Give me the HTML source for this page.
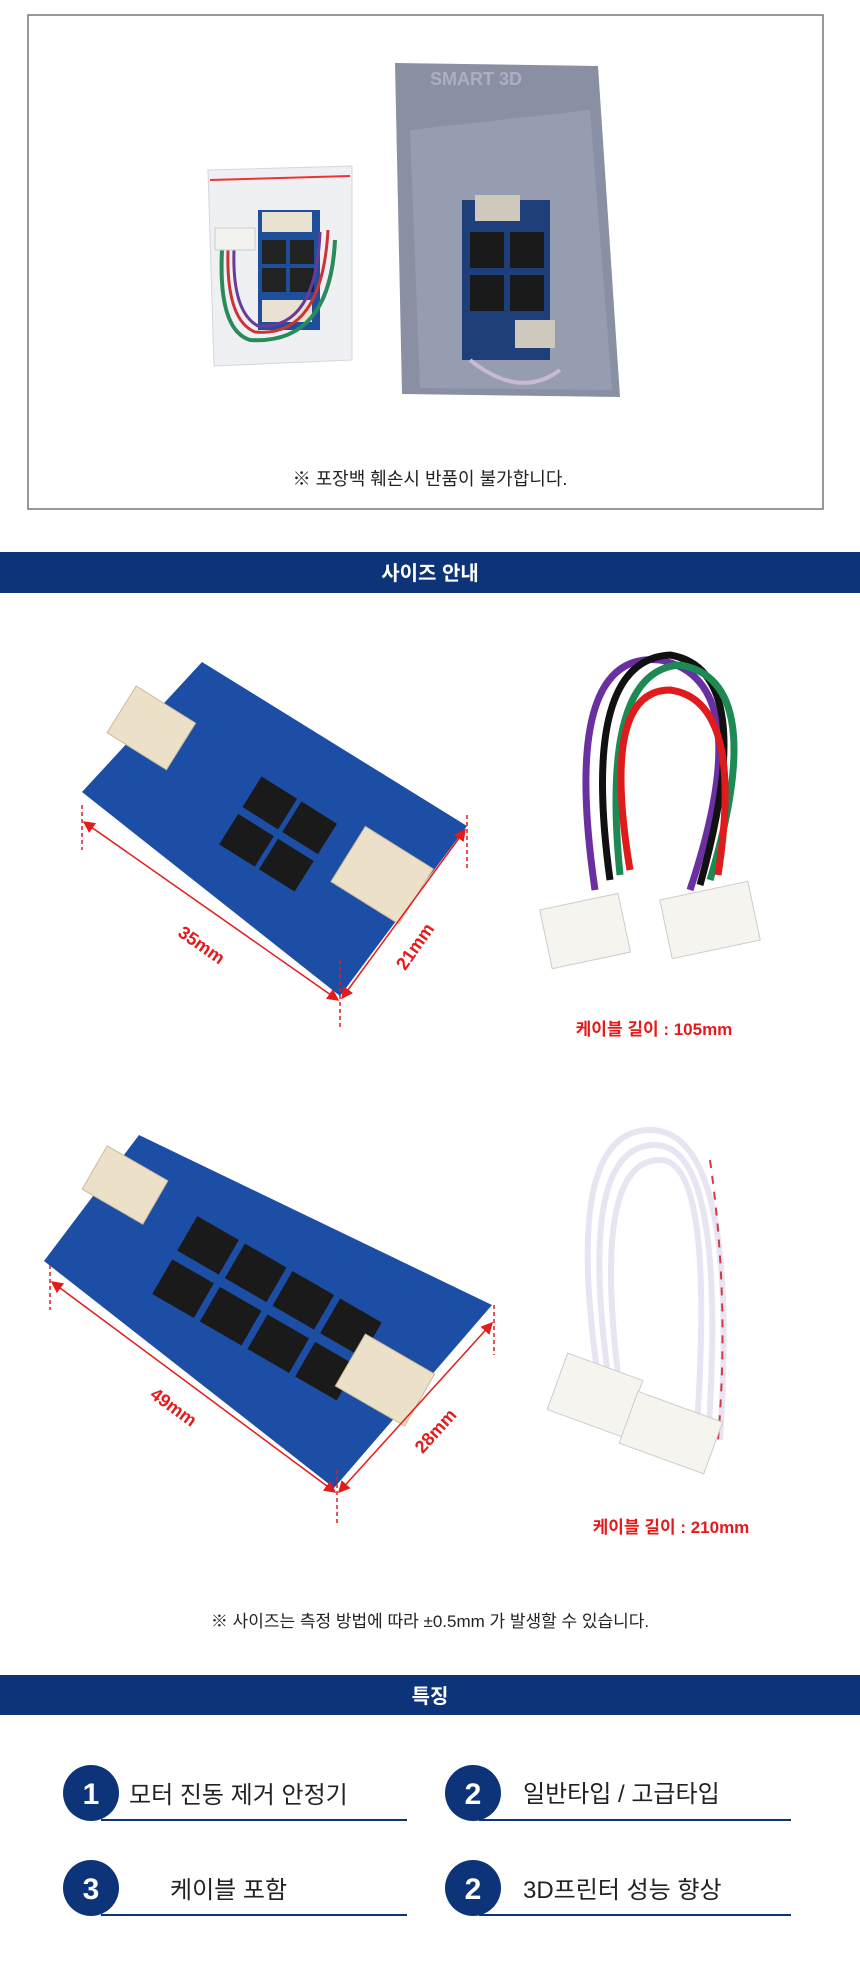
<!DOCTYPE html>
<html><head><meta charset="utf-8"><style>
html,body{margin:0;padding:0;background:#fff}
svg{display:block}
text{font-family:"Liberation Sans","Noto Sans CJK KR",sans-serif}
</style></head><body>
<svg width="860" height="1977" viewBox="0 0 860 1977" xmlns="http://www.w3.org/2000/svg">
<defs>
<marker id="ar" markerWidth="8" markerHeight="8" refX="7" refY="4" orient="auto-start-reverse"><path d="M0,0 L8,4 L0,8 z" fill="#e41b1b"/></marker>
</defs>
<!-- top box -->
<rect x="28" y="15" width="795" height="494" fill="#fff" stroke="#777" stroke-width="1.5"/>
<!-- small bag -->
<polygon points="208,170 352,166 352,360 214,366" fill="#eef0f4" stroke="#d4d6dc"/>
<line x1="210" y1="180" x2="350" y2="176" stroke="#e33" stroke-width="2"/>
<rect x="258" y="210" width="62" height="120" fill="#1f4f9a"/>
<rect x="262" y="212" width="50" height="20" fill="#e9e2d2"/>
<rect x="262" y="300" width="50" height="22" fill="#e9e2d2"/>
<rect x="262" y="240" width="24" height="24" fill="#222"/><rect x="290" y="240" width="24" height="24" fill="#222"/>
<rect x="262" y="268" width="24" height="24" fill="#222"/><rect x="290" y="268" width="24" height="24" fill="#222"/>
<path d="M222,250 Q218,330 250,340 Q330,345 335,240" fill="none" stroke="#2a8a5a" stroke-width="4"/>
<path d="M228,250 Q226,320 255,332 Q322,338 328,230" fill="none" stroke="#c33" stroke-width="3"/>
<path d="M234,250 Q232,312 258,326 Q316,330 320,232" fill="none" stroke="#6a3a9a" stroke-width="3"/>
<rect x="215" y="228" width="40" height="22" fill="#f4f2ee" stroke="#ccc"/>
<!-- big bag -->
<polygon points="395,63 598,66 620,397 402,394" fill="#8a90a4"/>
<polygon points="410,130 590,110 612,390 420,388" fill="#9aa0b4" opacity=".8"/>
<text x="430" y="85" font-size="18" fill="#aab0c0" font-weight="bold">SMART 3D</text>
<rect x="462" y="200" width="88" height="160" fill="#1e3f7a"/>
<rect x="475" y="195" width="45" height="26" fill="#cfc8bc"/>
<rect x="515" y="320" width="40" height="28" fill="#cfc8bc"/>
<rect x="470" y="232" width="34" height="36" fill="#1a1a1a"/><rect x="510" y="232" width="34" height="36" fill="#1a1a1a"/>
<rect x="470" y="275" width="34" height="36" fill="#1a1a1a"/><rect x="510" y="275" width="34" height="36" fill="#1a1a1a"/>
<path d="M470,360 Q520,400 560,370" fill="none" stroke="#c9b9d8" stroke-width="4"/>
<text x="430" y="485" font-size="18" fill="#222" text-anchor="middle">※ 포장백 훼손시 반품이 불가합니다.</text>
<!-- bar 1 -->
<rect x="0" y="552" width="860" height="41" fill="#0d3478"/>
<text x="430" y="580" font-size="20" fill="#fff" font-weight="bold" text-anchor="middle">사이즈 안내</text>
<!-- board 1 -->
<polygon points="82,792 202,662 467,826 340,996" fill="#1d4ea6"/>
<g transform="translate(270,829) rotate(32)">
<rect x="-35" y="-40" width="42" height="36" fill="#1a1a1a"/><rect x="12" y="-40" width="42" height="36" fill="#1a1a1a"/>
<rect x="-35" y="4" width="42" height="36" fill="#1a1a1a"/><rect x="12" y="4" width="42" height="36" fill="#1a1a1a"/>
</g>
<g transform="translate(150,730) rotate(32)"><rect x="-35" y="-30" width="70" height="55" fill="#ece0c8" stroke="#cbbb9a"/></g>
<g transform="translate(385,880) rotate(32)"><rect x="-45" y="-35" width="80" height="65" fill="#ece0c8" stroke="#cbbb9a"/></g>
<g stroke="#e41b1b" stroke-width="1.5" fill="none">
<line x1="82" y1="805" x2="82" y2="850" stroke-dasharray="4,3"/>
<line x1="340" y1="960" x2="340" y2="1030" stroke-dasharray="4,3"/>
<line x1="467" y1="815" x2="467" y2="870" stroke-dasharray="4,3"/>
<line x1="84" y1="822" x2="338" y2="1000" marker-start="url(#ar)" marker-end="url(#ar)"/>
<line x1="342" y1="998" x2="465" y2="830" marker-start="url(#ar)" marker-end="url(#ar)"/>
</g>
<text transform="translate(198,950) rotate(35)" font-size="18" font-weight="bold" fill="#e41b1b" text-anchor="middle">35mm</text>
<text transform="translate(420,950) rotate(-55)" font-size="18" font-weight="bold" fill="#e41b1b" text-anchor="middle">21mm</text>
<!-- cable 1 -->
<path d="M595,890 Q560,650 660,660 Q760,680 690,890" fill="none" stroke="#6a2fa0" stroke-width="7"/>
<path d="M610,880 Q580,660 670,655 Q760,670 700,885" fill="none" stroke="#111" stroke-width="7"/>
<path d="M620,875 Q600,670 680,665 Q770,680 710,880" fill="none" stroke="#1d8a54" stroke-width="7"/>
<path d="M630,870 Q600,690 670,690 Q745,700 718,875" fill="none" stroke="#e01b1b" stroke-width="7"/>
<g transform="translate(590,930) rotate(-12)"><rect x="-45" y="-30" width="80" height="60" fill="#f6f4ef" stroke="#ccc"/></g>
<g transform="translate(710,920) rotate(-12)"><rect x="-45" y="-30" width="90" height="60" fill="#f6f4ef" stroke="#ccc"/></g>
<text x="654" y="1035" font-size="17" font-weight="bold" fill="#e41b1b" text-anchor="middle">케이블 길이 : 105mm</text>
<!-- board 2 -->
<polygon points="44,1261 139,1135 492,1305 334,1488" fill="#1d4ea6"/>
<g transform="translate(270,1310) rotate(30)">
<rect x="-110" y="-45" width="48" height="40" fill="#1a1a1a"/><rect x="-55" y="-45" width="48" height="40" fill="#1a1a1a"/><rect x="0" y="-45" width="48" height="40" fill="#1a1a1a"/><rect x="55" y="-45" width="48" height="40" fill="#1a1a1a"/>
<rect x="-110" y="5" width="48" height="40" fill="#1a1a1a"/><rect x="-55" y="5" width="48" height="40" fill="#1a1a1a"/><rect x="0" y="5" width="48" height="40" fill="#1a1a1a"/><rect x="55" y="5" width="48" height="40" fill="#1a1a1a"/>
</g>
<g transform="translate(125,1185) rotate(30)"><rect x="-35" y="-25" width="70" height="50" fill="#ece0c8" stroke="#cbbb9a"/></g>
<g transform="translate(385,1380) rotate(30)"><rect x="-40" y="-30" width="80" height="60" fill="#ece0c8" stroke="#cbbb9a"/></g>
<g stroke="#e41b1b" stroke-width="1.5" fill="none">
<line x1="50" y1="1265" x2="50" y2="1310" stroke-dasharray="4,3"/>
<line x1="337" y1="1470" x2="337" y2="1525" stroke-dasharray="4,3"/>
<line x1="494" y1="1305" x2="494" y2="1355" stroke-dasharray="4,3"/>
<line x1="52" y1="1282" x2="335" y2="1492" marker-start="url(#ar)" marker-end="url(#ar)"/>
<line x1="339" y1="1492" x2="492" y2="1323" marker-start="url(#ar)" marker-end="url(#ar)"/>
</g>
<text transform="translate(170,1412) rotate(36)" font-size="18" font-weight="bold" fill="#e41b1b" text-anchor="middle">49mm</text>
<text transform="translate(440,1435) rotate(-48)" font-size="18" font-weight="bold" fill="#e41b1b" text-anchor="middle">28mm</text>
<!-- cable 2 -->
<g fill="none" stroke="#e9e4f2" stroke-width="6">
<path d="M600,1390 Q560,1130 650,1130 Q740,1130 720,1440"/>
<path d="M610,1390 Q575,1145 655,1145 Q728,1145 708,1440"/>
<path d="M620,1390 Q590,1160 660,1160 Q716,1160 696,1440"/>
</g>
<path d="M710,1160 Q730,1300 718,1440" fill="none" stroke="#d23a4a" stroke-width="2" stroke-dasharray="8,8"/>
<g transform="translate(595,1395) rotate(20)"><rect x="-40" y="-30" width="80" height="60" fill="#f6f4ef" stroke="#ccc"/></g>
<g transform="translate(670,1435) rotate(20)"><rect x="-45" y="-30" width="90" height="55" fill="#f6f4ef" stroke="#ccc"/></g>
<text x="671" y="1533" font-size="17" font-weight="bold" fill="#e41b1b" text-anchor="middle">케이블 길이 : 210mm</text>
<text x="430" y="1627" font-size="17" fill="#222" text-anchor="middle">※ 사이즈는 측정 방법에 따라 ±0.5mm 가 발생할 수 있습니다.</text>
<!-- bar 2 -->
<rect x="0" y="1675" width="860" height="40" fill="#0d3478"/>
<text x="430" y="1703" font-size="20" fill="#fff" font-weight="bold" text-anchor="middle">특징</text>
<!-- items -->
<g fill="#0d3478">
<circle cx="91" cy="1793" r="28"/><circle cx="473" cy="1793" r="28"/>
<circle cx="91" cy="1888" r="28"/><circle cx="473" cy="1888" r="28"/>
<rect x="101" y="1819" width="306" height="2"/><rect x="479" y="1819" width="312" height="2"/>
<rect x="101" y="1914" width="306" height="2"/><rect x="479" y="1914" width="312" height="2"/>
</g>
<g fill="#fff" font-size="30" font-weight="bold" text-anchor="middle">
<text x="91" y="1804">1</text><text x="473" y="1804">2</text>
<text x="91" y="1899">3</text><text x="473" y="1899">2</text>
</g>
<g fill="#222" font-size="24">
<text x="129" y="1803">모터 진동 제거 안정기</text>
<text x="523" y="1802">일반타입 / 고급타입</text>
<text x="170" y="1898">케이블 포함</text>
<text x="523" y="1898">3D프린터 성능 향상</text>
</g>
</svg>
</body></html>
